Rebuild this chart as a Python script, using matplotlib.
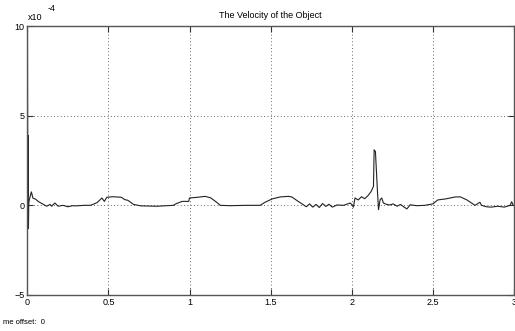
import matplotlib
matplotlib.use("Agg")
import matplotlib.pyplot as plt
import numpy as np

# time (s) and velocity (x 1e-4)
t = [0.0, 0.001, 0.003, 0.005, 0.006, 0.007, 0.009, 0.012, 0.018, 0.025, 0.035, 0.05, 0.07, 0.09,
     0.11, 0.12, 0.14, 0.15, 0.17, 0.19, 0.22, 0.25, 0.28, 0.3, 0.35, 0.39, 0.43, 0.46,
     0.475, 0.49, 0.53, 0.58, 0.6, 0.62, 0.655, 0.7, 0.8, 0.9, 0.92, 0.955, 0.985,
     0.995, 1.0, 1.05, 1.097, 1.13, 1.16, 1.19, 1.25, 1.35, 1.435, 1.465, 1.51, 1.56,
     1.61, 1.63, 1.67, 1.70, 1.72, 1.74, 1.76, 1.78, 1.80, 1.82, 1.84, 1.86, 1.88, 1.91,
     1.95, 1.99, 2.0, 2.01, 2.02, 2.04, 2.06, 2.08, 2.10, 2.12, 2.134, 2.138, 2.146,
     2.158, 2.165, 2.175, 2.185, 2.195, 2.216, 2.235, 2.255, 2.28, 2.3, 2.32, 2.34, 2.36,
     2.4, 2.45, 2.5, 2.53, 2.58, 2.64, 2.67, 2.71, 2.76, 2.79, 2.80, 2.83, 2.86, 2.9,
     2.94, 2.976, 2.986, 2.995, 3.0]
v = [0.0, 10.0, 0.5, 3.9, 0.5, -1.3, 0.1, 0.3, 0.5, 0.75, 0.4, 0.35, 0.2, 0.1,
     0.0, -0.05, 0.05, -0.05, 0.13, -0.05, 0.0, -0.08, -0.02, -0.03, 0.0, 0.0, 0.15, 0.41,
     0.22, 0.45, 0.48, 0.45, 0.32, 0.28, 0.05, -0.03, -0.05, 0.0, 0.1, 0.22, 0.22,
     0.22, 0.41, 0.45, 0.5, 0.42, 0.22, 0.0, -0.02, 0.0, 0.0, 0.17, 0.36, 0.47,
     0.5, 0.47, 0.22, 0.04, -0.08, 0.08, -0.1, 0.05, -0.12, 0.1, -0.06, 0.06, -0.1, 0.02,
     0.0, 0.13, 0.05, -0.1, 0.41, 0.3, 0.48, 0.37, 0.54, 0.78, 1.06, 3.1, 3.0,
     0.87, -0.24, 0.32, 0.41, 0.13, 0.05, 0.02, 0.08, -0.05, 0.05, -0.08, -0.2, 0.03,
     -0.02, 0.0, 0.08, 0.3, 0.36, 0.47, 0.47, 0.3, 0.0, 0.17, 0.0, -0.08, -0.1, -0.05,
     -0.1, 0.0, 0.2, 0.0, 0.0]

xticks = [0, 0.5, 1, 1.5, 2, 2.5, 3]
xticklabels = ["0", "0.5", "1", "1.5", "2", "2.5", "3"]
yticks = [-5, 0, 5, 10]

plt.rcParams["font.family"] = ["Liberation Sans", "DejaVu Sans"]

fig = plt.figure(figsize=(5.15, 3.31), dpi=100)
ax = fig.add_axes([0.053, 0.109, 0.945, 0.812])
ax.plot(t, v, color="#222222", lw=0.8)

ax.set_xlim(0, 3)
ax.set_ylim(-5, 10)
ax.set_xticks(xticks)
ax.set_xticklabels(xticklabels)
ax.set_yticks(yticks)
ax.tick_params(direction="in", length=4, width=0.8, labelsize=6.5, pad=2,
               top=True, right=True, colors="#333333", labelcolor="black")
ax.grid(True, linestyle=(0, (1, 3)), color="#333333", lw=0.6)
for s in ax.spines.values():
    s.set_color("#555555")
    s.set_linewidth(1.0)

ax.set_title("The Velocity of the Object", fontsize=6.5, pad=6)
fig.text(0.055, 0.935, "x10", fontsize=6.5, ha="left", va="bottom")
fig.text(0.093, 0.96, "-4", fontsize=6.5, ha="left", va="bottom")
fig.text(0.006, 0.015, "me offset:  0", fontsize=5.5, ha="left", va="bottom")

fig.savefig("out.png", dpi=100)
